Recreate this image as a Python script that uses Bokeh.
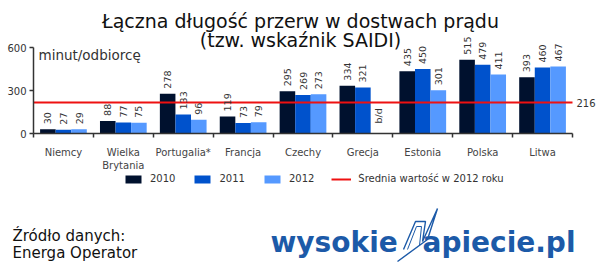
import numpy as np
from bokeh.plotting import figure
from bokeh.layouts import column
from bokeh.models import (Range1d, FixedTicker, CustomJSTickFormatter, Label,
                          Legend, LegendItem, ColumnDataSource)
from bokeh.core.properties import value
from bokeh.embed import file_html
from bokeh.resources import INLINE

# SAIDI (minutes of supply interruption per customer) by country and year
countries = ["Niemcy", "Wielka\nBrytania", "Portugalia*", "Francja", "Czechy",
             "Grecja", "Estonia", "Polska", "Litwa"]
years = ["2010", "2011", "2012"]
saidi_2010 = [30, 88, 278, 119, 295, 334, 435, 515, 393]
saidi_2011 = [27, 77, 133, 73, 269, 321, 450, 479, 460]
saidi_2012 = [29, 75, 96, 79, 273, None, 301, 411, 467]
avg_2012 = 216
y_ticks = [0, 300, 600]
missing_label = "b/d"

title_lines = ["Łączna długość przerw w dostwach prądu", "(tzw. wskaźnik SAIDI)"]
unit_label = "minut/odbiorcę"
avg_label = "Średnia wartość w 2012 roku"
source_lines = ["Źródło danych:", "Energa Operator"]

FONT = "DejaVu Sans"
TXT = "#333333"
RED = "#ee1111"
bar_colors = ["#00112e", "#0052cc", "#5599ff"]

# ---------------------------------------------------------------- main chart
W = 599
H = 173
FRAME_BOTTOM = 133             # canvas y of the zero line
PX_PER_UNIT = 43 / 300         # vertical scale in pixels per minute
CAT_PX = 539 / 9               # width of one country slot in pixels
n = len(countries)
centers = np.arange(n) + 0.5
bw = 0.26

p = figure(width=W, height=H, output_backend="svg", toolbar_location=None,
           x_range=Range1d(0, n + 27 / CAT_PX),
           y_range=Range1d(0, FRAME_BOTTOM / PX_PER_UNIT),
           min_border_left=33, min_border_right=0, min_border_top=0,
           min_border_bottom=H - FRAME_BOTTOM)
p.frame_align = False
p.outline_line_color = None
p.xgrid.visible = False
p.ygrid.visible = False

series = [saidi_2010, saidi_2011, saidi_2012]
bar_x = [centers + (i - 1) * bw for i in range(len(series))]

# bars
for xs, vals, col in zip(bar_x, series, bar_colors):
    tops = [np.nan if v is None else v for v in vals]
    p.vbar(x=xs, top=tops, bottom=0, width=bw, fill_color=col, line_color=None)

# 2012 average
p.line(x=[0, n], y=[avg_2012, avg_2012], line_color=RED, line_width=2)
p.add_layout(Label(x=n, y=avg_2012, x_offset=4, text=str(avg_2012),
                   text_baseline="middle", text_font=FONT,
                   text_font_size="10px", text_color=TXT))

# rotated value labels above the bars
for xs, vals in zip(bar_x, series):
    have = [k for k, v in enumerate(vals) if v is not None]
    lbl = ColumnDataSource(dict(x=[xs[k] for k in have],
                                y=[vals[k] for k in have],
                                t=[str(vals[k]) for k in have]))
    p.text(x="x", y="y", text="t", source=lbl, angle=np.pi / 2,
           text_align="left", text_baseline="middle", y_offset=-5,
           text_font=value(FONT), text_font_size="9.5px", text_color=TXT)
    miss = [k for k, v in enumerate(vals) if v is None]
    if miss:
        msrc = ColumnDataSource(dict(x=[xs[k] for k in miss], y=[0] * len(miss),
                                     t=[missing_label] * len(miss)))
        p.text(x="x", y="y", text="t", source=msrc, angle=np.pi / 2,
               text_align="left", text_baseline="middle", y_offset=-10,
               text_font=value(FONT), text_font_size="9.5px", text_color=TXT)

# axes
p.xaxis.bounds = (0, n)
p.xaxis.ticker = FixedTicker(ticks=list(centers), minor_ticks=list(range(n + 1)))
p.xaxis.formatter = CustomJSTickFormatter(args=dict(names=countries),
                                          code="return names[index]")
p.xaxis.major_tick_in = 0
p.xaxis.major_tick_out = 0
p.xaxis.minor_tick_in = 0
p.xaxis.minor_tick_out = 4
p.xaxis.minor_tick_line_color = TXT
p.xaxis.minor_tick_line_width = 1.5
p.xaxis.major_label_standoff = 9
p.xaxis.major_label_text_font = FONT
p.xaxis.major_label_text_font_size = "10px"
p.xaxis.major_label_text_color = "#444444"
p.xaxis.axis_line_color = TXT
p.xaxis.axis_line_width = 1.5

p.yaxis.ticker = FixedTicker(ticks=y_ticks)
p.yaxis.bounds = (y_ticks[0], y_ticks[-1])
p.yaxis.minor_tick_line_color = None
p.yaxis.major_tick_in = 0
p.yaxis.major_tick_out = 4
p.yaxis.major_tick_line_color = TXT
p.yaxis.major_tick_line_width = 1.5
p.yaxis.major_label_standoff = 3
p.yaxis.major_label_text_font = FONT
p.yaxis.major_label_text_font_size = "10px"
p.yaxis.major_label_text_color = TXT
p.yaxis.axis_line_color = TXT
p.yaxis.axis_line_width = 1.5

# title (two centred lines) and unit note, placed in frame pixels
for txt, baseline in zip(title_lines, [20, 39]):
    p.add_layout(Label(x=300 - 33, y=FRAME_BOTTOM - baseline,
                       x_units="screen", y_units="screen", text=txt,
                       text_align="center", text_baseline="alphabetic",
                       text_font=FONT, text_font_size="19px",
                       text_color="#111111"))
p.add_layout(Label(x=5, y=FRAME_BOTTOM - 54, x_units="screen", y_units="screen",
                   text=unit_label, text_baseline="alphabetic", text_font=FONT,
                   text_font_size="13.5px", text_color=TXT))

# ---------------------------------------------------------------- legend + footer
FH = 278 - H
f = figure(width=W, height=FH, output_backend="svg", toolbar_location=None,
           x_range=Range1d(0, W), y_range=Range1d(278, H),
           x_axis_type=None, y_axis_type=None, min_border=0)
f.frame_align = False
f.outline_line_color = None
f.xgrid.visible = False
f.ygrid.visible = False

# legend swatches styled like the chart series (no visible data of their own)
swatches = [f.vbar(x=[np.nan], top=[np.nan], width=1, fill_color=c,
                   line_color=None) for c in bar_colors]
avg_swatch = f.line(x=[np.nan], y=[np.nan], line_color=RED, line_width=2)
items = [LegendItem(label=yr, renderers=[r]) for yr, r in zip(years, swatches)]
items.append(LegendItem(label=avg_label, renderers=[avg_swatch]))
legend = Legend(items=items, orientation="horizontal", location=(123, 278 - 184),
                padding=0, margin=0, spacing=17, glyph_width=20, glyph_height=10,
                label_standoff=7, label_height=10, label_width=10,
                label_text_font=FONT, label_text_font_size="10px",
                label_text_color=TXT, label_text_baseline="middle",
                border_line_color=None, background_fill_alpha=0)
f.add_layout(legend)

for txt, baseline in zip(source_lines, [235, 252]):
    f.add_layout(Label(x=12, y=baseline, text=txt, text_baseline="alphabetic",
                       text_font=FONT, text_font_size="15px",
                       text_color="#111111"))

LOGO = "#1c5aa8"
f.add_layout(Label(x=270, y=242, text="wysokie", text_baseline="alphabetic",
                   text_font=FONT, text_font_style="bold",
                   text_font_size="28px", text_color=LOGO))
f.add_layout(Label(x=575, y=242, text="apiecie.pl", text_align="right",
                   text_baseline="alphabetic", text_font=FONT,
                   text_font_style="bold", text_font_size="28px",
                   text_color=LOGO))
# lightning-bolt "N" of the logo
f.line(x=[403, 415, 425, 422, 437, 427, 397],
       y=[249, 221, 221, 241, 208, 239, 261],
       line_color=LOGO, line_width=1.4)
f.line(x=[407, 416, 421, 419],
       y=[249, 226, 226, 245],
       line_color=LOGO, line_width=1.0)

layout = column(p, f, spacing=0)
open("out.html", "w").write(file_html(layout, INLINE))
